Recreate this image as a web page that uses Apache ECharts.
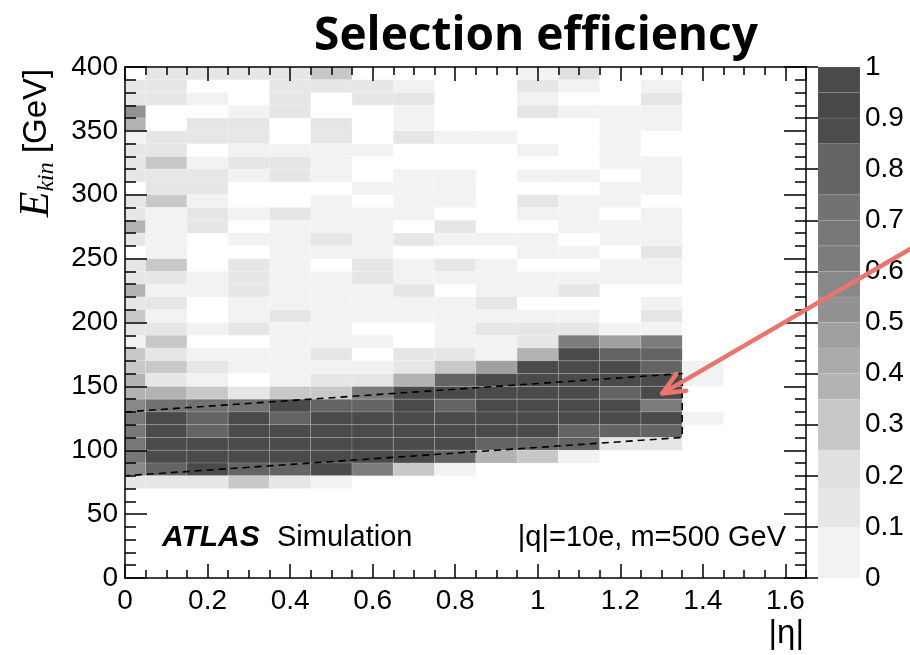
<!DOCTYPE html>
<html>
<head>
<meta charset="utf-8">
<script src="https://cdn.jsdelivr.net/npm/echarts@6/dist/echarts.min.js"></script>
<style>
  html, body { margin: 0; padding: 0; background: #fff; }
  #chart { width: 910px; height: 655px; }
</style>
</head>
<body>
<div id="chart"></div>
<script>
// |eta| bin centres (bins 0.1 wide, the first one clipped at 0)
const etaCentres = [0, 0.1, 0.2, 0.3, 0.4, 0.5, 0.6, 0.7, 0.8, 0.9, 1.0, 1.1, 1.2, 1.3, 1.4];
// lower edge of each 10 GeV kinetic-energy row, listed from the top row down
const energyLow = [390, 380, 370, 360, 350, 340, 330, 320, 310, 300, 290, 280, 270, 260, 250,
                   240, 230, 220, 210, 200, 190, 180, 170, 160, 150, 140, 130, 120, 110, 100,
                   90, 80, 70];
const _ = null; // empty bin
// selection efficiency per bin, one row per entry of energyLow, one column per etaCentres
const efficiency = [
  [_, .15, .15, .15, .15, .30, _, _, _, _, .05, .20, _, _, _],
  [.15, .15, _, _, .15, .15, .15, .05, _, _, .15, .05, _, .05, _],
  [.15, .15, .05, _, .15, _, .15, .15, _, _, .05, _, _, .15, _],
  [.52, _, _, .05, .15, _, _, .05, _, _, .15, .05, .05, .05, _],
  [.38, _, .15, .15, _, .15, _, .05, _, _, _, _, .05, .05, _],
  [.05, .15, .15, .15, _, .15, _, .15, .05, .05, _, _, .05, _, _],
  [.15, .15, _, .05, .05, .05, .05, _, _, _, .05, _, .05, _, _],
  [.15, .30, .05, .15, .15, .05, _, _, _, _, _, _, .05, .05, _],
  [.15, .15, .15, .05, .15, .05, _, .05, .05, _, .05, .05, _, .05, _],
  [_, .15, .15, _, _, _, .05, .05, .05, _, _, _, .05, .05, _],
  [.15, .30, .05, _, _, .05, _, .05, .05, _, .15, .05, .05, _, _],
  [.15, .05, .15, .05, .15, .05, .05, .05, _, _, .05, .05, _, .05, _],
  [.38, .05, .15, _, .05, .05, .05, _, .15, _, _, .05, .05, .05, _],
  [.15, .05, _, .05, .05, .15, .05, .15, .05, .05, .05, _, .05, .05, _],
  [_, .05, _, _, .05, .05, .05, _, _, _, .05, .05, _, .15, _],
  [.15, .30, _, .15, .05, _, .15, .05, .15, .05, _, _, .05, .05, _],
  [.15, .15, .05, .15, .05, .05, .15, .05, .05, .05, .05, .05, .05, .05, _],
  [.38, .05, .05, .15, .05, .05, .05, .15, _, .05, .05, .15, _, _, _],
  [.15, .15, _, .05, .05, .05, .05, .05, .05, .15, _, _, _, .05, _],
  [.30, .05, _, .05, .15, .05, .05, .05, .05, .05, .05, .05, _, .15, _],
  [.15, .15, .05, .15, .05, .05, _, _, .05, .15, .15, .15, .05, .05, _],
  [.05, .30, _, _, .05, .05, .05, _, .05, .05, .15, .62, .47, .62, _],
  [.30, .15, .05, .05, .05, .15, _, .15, .15, .05, .38, .95, .80, .80, _],
  [.30, .30, .15, .05, .05, .05, .05, .15, .30, .47, .95, .95, .95, .80, .05],
  [.38, .15, .05, _, .05, .15, .15, .38, .80, .95, .95, .95, .95, .95, .05],
  [.38, .38, .30, .15, .30, .30, .62, .95, .95, .95, .95, .95, .80, .95, _],
  [.57, .70, .70, .70, .95, .80, .80, .95, .80, .95, .95, .95, .95, .62, _],
  [.65, .95, .80, .95, .80, .95, .95, .95, .95, .95, .95, .95, .95, .95, .05],
  [.65, .95, .80, .95, .95, .95, .95, .95, .95, .95, .95, .80, .80, .80, _],
  [.65, .95, .95, .95, .95, .95, .95, .95, .95, .80, .80, .80, .15, .15, _],
  [.65, .95, .95, .95, .95, .95, .95, .95, .80, .38, .30, .05, _, _, _],
  [.57, .80, .95, .80, .80, .95, .62, .30, .05, _, _, _, _, _, _],
  [.15, .15, .15, .30, .15, .05, _, _, _, _, _, _, _, _, _]
];
// corners of the signal region (|eta|, GeV)
const signalRegion = [[0, 130], [1.35, 160], [1.35, 110], [0, 80]];
// colour-scale contour edges
const paletteEdges = [0, 0.1, 0.175, 0.25, 0.35, 0.4, 0.45, 0.5, 0.55, 0.6, 0.65, 0.7, 0.75, 0.85, 0.9, 0.95, 1];

const ETA_BIN = 0.1, E_BIN = 10;
const paletteColours = ['#f2f2f2', '#e6e6e6', '#e0e0e0', '#c8c8c8', '#b2b2b2', '#aaaaaa', '#a0a0a0',
  '#929292', '#888888', '#7c7c7c', '#777777', '#727272', '#646464', '#4c4c4c', '#484848', '#4a4a4a'];
const FONT = "'Liberation Sans', Arial, Helvetica, sans-serif";
const SERIF = "'Liberation Serif', 'Times New Roman', serif";

const cells = [];
energyLow.forEach((e, i) => efficiency[i].forEach((v, j) => {
  if (v !== null) cells.push([etaCentres[j], e, v]);
}));

const scaleBands = [];
for (let k = 0; k < paletteEdges.length - 1; k++) {
  scaleBands.push([paletteEdges[k], paletteEdges[k + 1], (paletteEdges[k] + paletteEdges[k + 1]) / 2]);
}
const pieces = scaleBands.map((b, k) => k === scaleBands.length - 1
  ? { gte: b[0], lte: b[1], color: paletteColours[k] }
  : { gte: b[0], lt: b[1], color: paletteColours[k] });

const black = { color: '#000', width: 1.5 };
const tickLabel = { color: '#000', fontFamily: FONT, fontSize: 28 };

function etaAxis(position, step, tickLen, withLabels, withLine) {
  return {
    type: 'value', gridIndex: 0, position: position, min: 0, max: 1.65, interval: step, z: 10,
    axisLine: { show: withLine, onZero: false, lineStyle: black },
    axisTick: { show: true, inside: true, length: tickLen, lineStyle: black },
    axisLabel: withLabels ? Object.assign({ show: true, margin: 9, showMaxLabel: false }, tickLabel) : { show: false },
    splitLine: { show: false }
  };
}
function energyAxis(position, withLabels) {
  return {
    type: 'value', gridIndex: 0, position: position, min: 0, max: 400, interval: 50, z: 10,
    axisLine: { show: true, onZero: false, lineStyle: black },
    axisTick: { show: true, inside: true, length: 22, lineStyle: black },
    minorTick: { show: true, splitNumber: 5, length: 11, lineStyle: black },
    axisLabel: withLabels ? Object.assign({ show: true, margin: 7 }, tickLabel) : { show: false },
    splitLine: { show: false }, minorSplitLine: { show: false }
  };
}

const chart = echarts.init(document.getElementById('chart'), null, { renderer: 'canvas' });

chart.setOption({
  animation: false,
  backgroundColor: '#fff',
  grid: [
    { left: 125, top: 67, width: 681, height: 511, containLabel: false },
    { left: 818, top: 67, width: 42, height: 511, containLabel: false }
  ],
  xAxis: [
    etaAxis('bottom', 0.2, 14, true, true),
    etaAxis('bottom', 0.05, 8, false, false),
    etaAxis('top', 0.2, 14, false, true),
    etaAxis('top', 0.05, 8, false, false),
    { type: 'value', gridIndex: 1, min: 0, max: 1, show: false }
  ],
  yAxis: [
    energyAxis('left', true),
    energyAxis('right', false),
    {
      type: 'value', gridIndex: 1, position: 'right', min: 0, max: 1, interval: 0.1, z: 10,
      axisLine: { show: false },
      axisTick: { show: true, inside: true, length: 22, lineStyle: black },
      axisLabel: Object.assign({ show: true, margin: 5 }, tickLabel),
      splitLine: { show: false }
    }
  ],
  visualMap: {
    type: 'piecewise', show: false, dimension: 2, seriesIndex: [0, 2], pieces: pieces
  },
  series: [
    {
      type: 'custom', name: 'efficiency', xAxisIndex: 0, yAxisIndex: 0, z: 1,
      data: cells, encode: { x: 0, y: 1 }, silent: true,
      renderItem: function (params, api) {
        const eta = api.value(0), e = api.value(1);
        const a = api.coord([Math.max(eta - ETA_BIN / 2, 0), e + E_BIN]);
        const b = api.coord([eta + ETA_BIN / 2, e]);
        return {
          type: 'rect',
          shape: { x: a[0], y: a[1], width: b[0] - a[0], height: b[1] - a[1] },
          style: { fill: api.visual('color'), stroke: 'rgba(255,255,255,0.2)', lineWidth: 0.8 }
        };
      }
    },
    {
      type: 'line', name: 'signal region', xAxisIndex: 0, yAxisIndex: 0, z: 3,
      data: signalRegion, symbol: 'none', silent: true,
      lineStyle: { color: '#000', width: 1.6, type: [7, 5] }
    },
    {
      type: 'custom', name: 'scale', xAxisIndex: 4, yAxisIndex: 2, z: 1,
      data: scaleBands, silent: true,
      renderItem: function (params, api) {
        const a = api.coord([0, api.value(1)]);
        const b = api.coord([1, api.value(0)]);
        return {
          type: 'rect',
          shape: { x: a[0], y: a[1], width: b[0] - a[0], height: b[1] - a[1] },
          style: { fill: api.visual('color'), stroke: 'rgba(255,255,255,0.12)', lineWidth: 0.8 }
        };
      }
    }
  ]
});

// annotation arrow pointing at the bin near |eta| = 1.3, E = 145 GeV
const tip = chart.convertToPixel({ xAxisIndex: 0, yAxisIndex: 0 }, [1.302, 144.5]);
const tail = [912, 248];
const ang = Math.atan2(tail[1] - tip[1], tail[0] - tip[0]);
const wing = 24, spread = 0.42;
const w1 = [tip[0] + wing * Math.cos(ang - spread), tip[1] + wing * Math.sin(ang - spread)];
const w2 = [tip[0] + wing * Math.cos(ang + spread), tip[1] + wing * Math.sin(ang + spread)];
const arrowStyle = { stroke: '#e9756c', lineWidth: 4.5, lineCap: 'round', lineJoin: 'round', fill: null };

chart.setOption({
  graphic: [
    {
      type: 'text', x: 536, y: 37, z: 50,
      style: { text: 'Selection efficiency', font: "bold 46px 'Open Sans', Lato, sans-serif",
               fill: '#000', align: 'center', verticalAlign: 'middle' }
    },
    {
      type: 'text', x: 37, y: 143, rotation: Math.PI / 2, z: 50,
      style: {
        text: '{e|E}{k|kin}{g| [GeV]}', align: 'center', verticalAlign: 'middle',
        rich: {
          e: { fontFamily: SERIF, fontStyle: 'italic', fontSize: 42, fill: '#000', lineHeight: 44, verticalAlign: 'middle' },
          k: { fontFamily: SERIF, fontStyle: 'italic', fontSize: 24, fill: '#000', lineHeight: 44, verticalAlign: 'bottom' },
          g: { fontFamily: FONT, fontSize: 33, fill: '#000', lineHeight: 44, verticalAlign: 'middle' }
        }
      }
    },
    {
      type: 'text', x: 804, y: 634, z: 50,
      style: { text: '|η|', font: "33px " + FONT, fill: '#000', align: 'right', verticalAlign: 'middle' }
    },
    {
      type: 'text', x: 162, y: 538, z: 50,
      style: { text: 'ATLAS', font: "italic bold 30px " + FONT, fill: '#000', align: 'left', verticalAlign: 'middle' }
    },
    {
      type: 'text', x: 277, y: 538, z: 50,
      style: { text: 'Simulation', font: "29px " + FONT, fill: '#000', align: 'left', verticalAlign: 'middle' }
    },
    {
      type: 'text', x: 786, y: 538, z: 50,
      style: { text: '|q|=10e, m=500 GeV', font: "29px " + FONT, fill: '#000', align: 'right', verticalAlign: 'middle' }
    },
    {
      type: 'polyline', z: 60, silent: true,
      shape: { points: [tail, tip] }, style: arrowStyle
    },
    {
      type: 'polyline', z: 60, silent: true,
      shape: { points: [w1, tip, w2] }, style: arrowStyle
    }
  ]
});
</script>
</body>
</html>
